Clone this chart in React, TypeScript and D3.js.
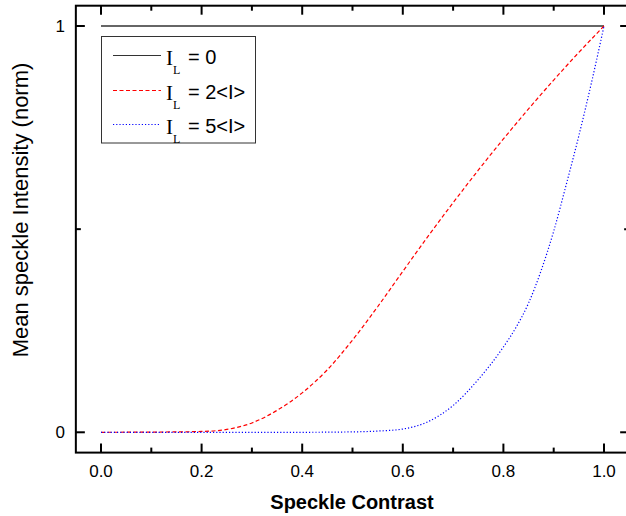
import React from "react";
import * as d3 from "d3";

const contrastRed = [0, 0.1, 0.15, 0.2, 0.25, 0.3, 0.35, 0.4, 0.45, 0.5, 0.55, 0.6, 0.65, 0.7, 0.75, 0.8, 0.85, 0.9, 0.95, 1.0];
const intensityRed = [0, 0.0005, 0.001, 0.002, 0.007, 0.023, 0.054, 0.097, 0.154, 0.227, 0.309, 0.396, 0.482, 0.565, 0.645, 0.722, 0.796, 0.867, 0.935, 1.0];

const contrastBlue = [0, 0.1, 0.2, 0.3, 0.4, 0.5, 0.55, 0.6, 0.65, 0.7, 0.75, 0.8, 0.825, 0.85, 0.875, 0.9, 0.925, 0.95, 0.975, 1.0];
const intensityBlue = [0, 0, 0, 0, 0, 0.001, 0.003, 0.008, 0.026, 0.066, 0.13, 0.21, 0.258, 0.318, 0.398, 0.495, 0.61, 0.73, 0.86, 1.0];

const contrastBlack = [0, 1.0];
const intensityBlack = [1, 1];

const xMajorTicks = [0, 0.2, 0.4, 0.6, 0.8, 1.0];
const xMinorTicks = [0.1, 0.3, 0.5, 0.7, 0.9];
const yMajorTicks = [0, 1];
const yMinorTicks = [0.5];

const legendLabels = ["= 0", "= 2<I>", "= 5<I>"];

export default function App() {
  const x = d3.scaleLinear().domain([-0.05, 1.05]).range([75.85, 629.15]);
  const y = d3.scaleLinear().domain([-0.05, 1.05]).range([452.6, 5.7]);
  const x0 = x(-0.05), x1 = x(1.05), y0 = y(-0.05), y1 = y(1.05);

  const mk = (cs: number[], vs: number[]) =>
    d3.line<number>().x((_, i) => x(cs[i])).y((v) => y(v)).curve(d3.curveMonotoneX)(vs) || "";

  const series = [
    { d: mk(contrastBlack, intensityBlack), color: "#333", dash: "", width: 1.5 },
    { d: mk(contrastRed, intensityRed), color: "#ff0000", dash: "4,2.5", width: 1.2 },
    { d: mk(contrastBlue, intensityBlue), color: "#0000ff", dash: "1.2,2", width: 1.2 },
  ];

  const fontSans = "Arial, 'Liberation Sans', Helvetica, sans-serif";
  const fontSerif = "'Times New Roman', 'Liberation Serif', serif";

  return (
    <svg width={626} height={516} style={{ position: "absolute", left: 0, top: 0, background: "#fff" }}>
      <defs>
        <clipPath id="plot">
          <rect x={x0} y={y1} width={x1 - x0} height={y0 - y1} />
        </clipPath>
      </defs>
      <g clipPath="url(#plot)">
        {series.map((s, i) => (
          <path key={i} d={s.d} fill="none" stroke={s.color} strokeWidth={s.width} strokeDasharray={s.dash || undefined} />
        ))}
      </g>
      {/* frame */}
      <rect x={x0} y={y1} width={x1 - x0} height={y0 - y1} fill="none" stroke="#000" strokeWidth={2} />
      {/* bottom & top ticks */}
      {xMajorTicks.map((t) => (
        <g key={"xm" + t}>
          <line x1={x(t)} x2={x(t)} y1={y0} y2={y0 - 9} stroke="#000" strokeWidth={2} />
          <line x1={x(t)} x2={x(t)} y1={y1} y2={y1 + 9} stroke="#000" strokeWidth={2} />
          <text x={x(t)} y={477} textAnchor="middle" fontFamily={fontSans} fontSize={17} fill="#000">
            {t.toFixed(1)}
          </text>
        </g>
      ))}
      {xMinorTicks.map((t) => (
        <g key={"xn" + t}>
          <line x1={x(t)} x2={x(t)} y1={y0} y2={y0 - 5} stroke="#000" strokeWidth={2} />
          <line x1={x(t)} x2={x(t)} y1={y1} y2={y1 + 5} stroke="#000" strokeWidth={2} />
        </g>
      ))}
      {/* left & right ticks */}
      {yMajorTicks.map((t) => (
        <g key={"ym" + t}>
          <line x1={x0} x2={x0 + 9} y1={y(t)} y2={y(t)} stroke="#000" strokeWidth={2} />
          <line x1={x1} x2={x1 - 9} y1={y(t)} y2={y(t)} stroke="#000" strokeWidth={2} />
          <text x={65} y={y(t) + 6} textAnchor="end" fontFamily={fontSans} fontSize={17} fill="#000">
            {String(t)}
          </text>
        </g>
      ))}
      {yMinorTicks.map((t) => (
        <g key={"yn" + t}>
          <line x1={x0} x2={x0 + 5} y1={y(t)} y2={y(t)} stroke="#000" strokeWidth={2} />
          <line x1={x1} x2={x1 - 5} y1={y(t)} y2={y(t)} stroke="#000" strokeWidth={2} />
        </g>
      ))}
      {/* axis titles */}
      <text x={352} y={509} textAnchor="middle" fontFamily={fontSans} fontSize={20} fontWeight="bold" fill="#000">
        Speckle Contrast
      </text>
      <text
        transform={`translate(28, 210) rotate(-90)`}
        textAnchor="middle"
        fontFamily={fontSans}
        fontSize={22}
        fill="#000"
      >
        Mean speckle Intensity (norm)
      </text>
      {/* legend */}
      <rect x={101.5} y={36.5} width={154} height={106.5} fill="#fff" stroke="#333" strokeWidth={1} />
      {series.map((s, i) => {
        const cy = Math.round(55 + i * 34.5) + 0.5;
        return (
          <g key={"lg" + i}>
            <line x1={113} x2={161} y1={cy} y2={cy} stroke={s.color} strokeWidth={1} strokeDasharray={s.dash || undefined} />
            <text x={166} y={cy + 9} fontFamily={fontSerif} fontSize={21} fill="#000">I</text>
            <text x={173} y={cy + 18} fontFamily={fontSerif} fontSize={12} fill="#000">L</text>
            <text x={188} y={cy + 8} fontFamily={fontSans} fontSize={20} fill="#000">{legendLabels[i]}</text>
          </g>
        );
      })}
    </svg>
  );
}
